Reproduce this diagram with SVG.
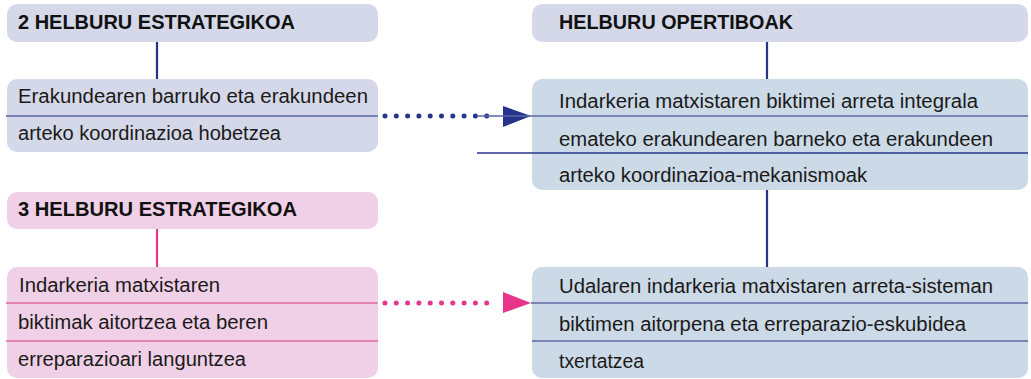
<svg xmlns="http://www.w3.org/2000/svg" width="1031" height="379" viewBox="0 0 1031 379">
<style>
.hb{fill:#d5d8e8}
.bb{fill:#ccd9e6}
.pk{fill:#f0d0e6}
.t{font-family:"Liberation Sans",Arial,sans-serif;font-size:19.5px;fill:#1a1a1a}
.h{font-family:"Liberation Sans",Arial,sans-serif;font-size:19.5px;font-weight:bold;fill:#111}
.sepb{stroke:#5a67a6;stroke-width:1.5}
.sepn{stroke:#27348b;stroke-width:1.5}
.sepp{stroke:#e06aa6;stroke-width:1.5}
.vn{stroke:#27348b;stroke-width:2.2}
.vp{stroke:#e6358b;stroke-width:2.2}
.dn{stroke:#27348b;stroke-width:5;stroke-linecap:round;stroke-dasharray:0 11.3}
.dp{stroke:#e6358b;stroke-width:5;stroke-linecap:round;stroke-dasharray:0 11.3}
</style>
<g id="connectors">
<line class="vn" x1="157" y1="42" x2="157" y2="79"/>
<line class="vn" x1="767" y1="42" x2="767" y2="79"/>
<line class="vn" x1="767" y1="190" x2="767" y2="267"/>
<line class="vp" x1="157" y1="229" x2="157" y2="267"/>
<line class="dn" x1="385" y1="116" x2="498" y2="116"/>
<polygon points="503,106 531,116 503,127" fill="#27348b"/>
<line class="dp" x1="385" y1="303" x2="498" y2="303"/>
<polygon points="503,292 531,303 503,313" fill="#e6358b"/>
</g>
<g id="h2">
<rect class="hb" x="7" y="4" width="371" height="38" rx="10"/>
<text class="h" x="18" y="29" textLength="277" lengthAdjust="spacingAndGlyphs">2 HELBURU ESTRATEGIKOA</text>
</g>
<g id="obj2">
<rect class="hb" x="7" y="79" width="371" height="73" rx="10"/>
<line class="sepb" x1="6" y1="116" x2="378" y2="116"/>
<text class="t" x="18" y="103" textLength="350" lengthAdjust="spacingAndGlyphs">Erakundearen barruko eta erakundeen</text>
<text class="t" x="18" y="140" textLength="263" lengthAdjust="spacingAndGlyphs">arteko koordinazioa hobetzea</text>
</g>
<g id="h3">
<rect class="pk" x="7" y="192" width="371" height="37" rx="10"/>
<text class="h" x="18" y="216" textLength="279" lengthAdjust="spacingAndGlyphs">3 HELBURU ESTRATEGIKOA</text>
</g>
<g id="obj3">
<rect class="pk" x="7" y="267" width="371" height="111" rx="10"/>
<line class="sepp" x1="6" y1="303" x2="378" y2="303"/>
<line class="sepp" x1="6" y1="341" x2="378" y2="341"/>
<text class="t" x="19" y="292" textLength="201" lengthAdjust="spacingAndGlyphs">Indarkeria matxistaren</text>
<text class="t" x="18" y="329" textLength="250" lengthAdjust="spacingAndGlyphs">biktimak aitortzea eta beren</text>
<text class="t" x="18" y="366" textLength="228" lengthAdjust="spacingAndGlyphs">erreparazioari languntzea</text>
</g>
<g id="hop">
<rect class="hb" x="532" y="4" width="496" height="38" rx="10"/>
<text class="h" x="559" y="29" textLength="234" lengthAdjust="spacingAndGlyphs">HELBURU OPERTIBOAK</text>
</g>
<g id="op1">
<rect class="bb" x="532" y="79" width="496" height="111" rx="10"/>
<line class="sepb" x1="477" y1="116" x2="1028" y2="116"/>
<line class="sepn" x1="477" y1="153" x2="1028" y2="153"/>
<text class="t" x="559" y="108" textLength="419" lengthAdjust="spacingAndGlyphs">Indarkeria matxistaren biktimei arreta integrala</text>
<text class="t" x="559" y="146" textLength="434" lengthAdjust="spacingAndGlyphs">emateko erakundearen barneko eta erakundeen</text>
<text class="t" x="559" y="182" textLength="308" lengthAdjust="spacingAndGlyphs">arteko koordinazioa-mekanismoak</text>
</g>
<g id="op2">
<rect class="bb" x="532" y="267" width="496" height="111" rx="10"/>
<line class="sepb" x1="531" y1="303" x2="1028" y2="303"/>
<line class="sepb" x1="532" y1="341" x2="1028" y2="341"/>
<text class="t" x="559" y="293" textLength="434" lengthAdjust="spacingAndGlyphs">Udalaren indarkeria matxistaren arreta-sisteman</text>
<text class="t" x="559" y="331" textLength="407" lengthAdjust="spacingAndGlyphs">biktimen aitorpena eta erreparazio-eskubidea</text>
<text class="t" x="559" y="368" textLength="85" lengthAdjust="spacingAndGlyphs">txertatzea</text>
</g>
</svg>
